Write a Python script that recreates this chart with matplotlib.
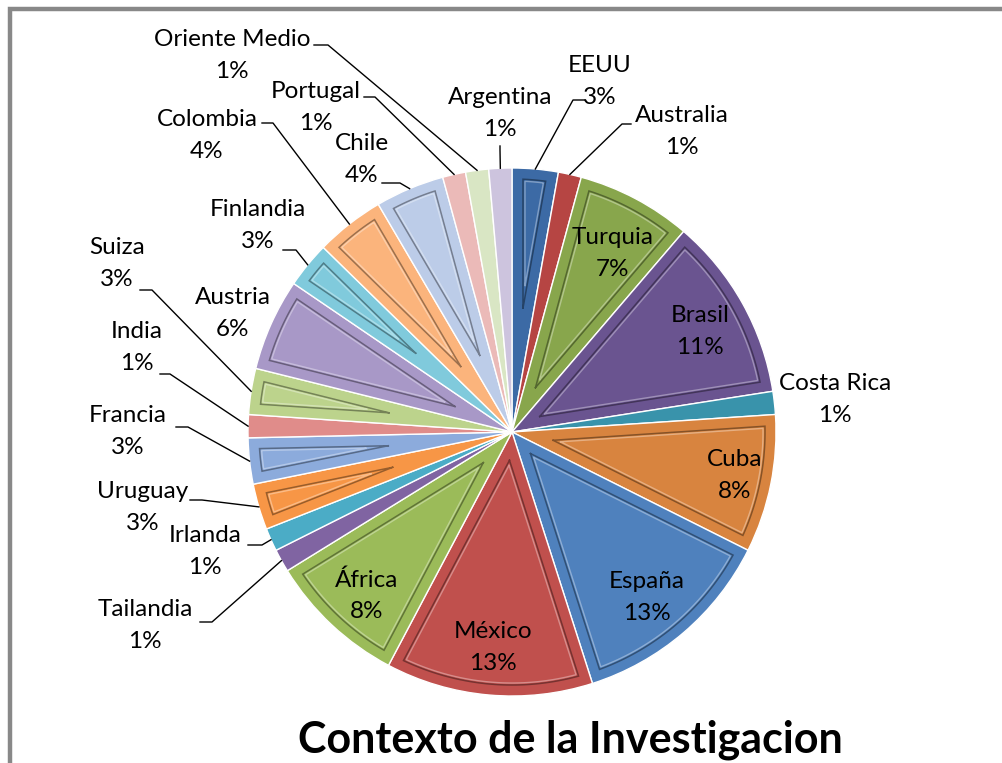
"""
Contexto de la Investigacion - exploded pie chart with bevelled slices.
"""

import numpy as np
import matplotlib
matplotlib.use("Agg")
import matplotlib.pyplot as plt
from matplotlib.colors import to_rgb

W, H = 1003, 763

# Data: number of studies per country (pie goes clockwise from the top)
countries = ["EEUU", "Australia", "Turquia", "Brasil", "Costa Rica", "Cuba",
             "España", "México", "África", "Tailandia", "Irlanda", "Uruguay",
             "Francia", "India", "Suiza", "Austria", "Finlandia", "Colombia",
             "Chile", "Portugal", "Oriente Medio", "Argentina"]
counts = [2, 1, 5, 8, 1, 6, 9, 9, 6, 1, 1, 2, 2, 1, 2, 4, 2, 3, 3, 1, 1, 1]
colors = ["#3c6aa5", "#b64543", "#88a64c", "#6a5490", "#3993ab", "#d8843f",
          "#4f81bd", "#c0504d", "#9bbb59", "#8064a2", "#4bacc6", "#f79646",
          "#8cabdc", "#e08c8a", "#bcd38c", "#a898c7", "#80cadc", "#fbb47c",
          "#bccce8", "#ebbab8", "#d9e6c4", "#cdc4de"]
title = "Contexto de la Investigacion"

# label placement in pixels (x, y of the name line), percentage goes below
label_pos = {
    "EEUU": (600, 65), "Australia": (682, 115), "Turquia": (613, 238),
    "Brasil": (700, 315), "Costa Rica": (835, 384), "Cuba": (735, 460),
    "España": (647, 581), "México": (493, 632), "África": (367, 580),
    "Tailandia": (145, 610), "Irlanda": (205, 535), "Uruguay": (143, 491),
    "Francia": (128, 416), "India": (137, 331), "Suiza": (117, 247),
    "Austria": (233, 297), "Finlandia": (258, 210), "Colombia": (207, 119),
    "Chile": (362, 143), "Portugal": (316, 92), "Oriente Medio": (232, 40),
    "Argentina": (500, 98),
}
# leader lines: start and elbow in pixels, the end is on the slice
leaders = {
    "Oriente Medio": [(314, 45), (328, 45)],
    "Portugal": [(364, 97), (375, 97)],
    "Argentina": [(500, 146), (500, 150)],
    "EEUU": [(585, 100), (573, 100)],
    "Australia": [(631, 124), (622, 124)],
    "Chile": [(382, 183), (400, 183)],
    "Colombia": [(262, 123), (273, 123)],
    "Finlandia": [(283, 250), (296, 250)],
    "Suiza": [(140, 290), (152, 290)],
    "India": [(160, 374), (170, 374)],
    "Francia": [(176, 427), (188, 427)],
    "Uruguay": [(190, 500), (202, 500)],
    "Irlanda": [(248, 545), (262, 545)],
    "Tailandia": [(200, 622), (212, 622)],
}


def px(x, y):
    """pixel coords (y down) -> axes data coords (y up)"""
    return x, H - y


def shade(c, f):
    r = np.array(to_rgb(c))
    if f < 1:
        return tuple(r * f)
    return tuple(r + (1 - r) * (f - 1))


def bevel(ax, w, color, d, col, lw):
    cx, cy = w.center
    R = w.r
    t1, t2 = np.radians(w.theta1), np.radians(w.theta2)
    a = (t2 - t1) / 2
    phi = (t1 + t2) / 2
    s = d / np.sin(a)
    Rin = R - d
    if s > Rin - 15:
        return
    delta = np.arcsin(d / Rin)
    th = np.linspace(t1 + delta, t2 - delta, 60)
    xs = [cx + s * np.cos(phi)] + list(cx + Rin * np.cos(th)) + [cx + s * np.cos(phi)]
    ys = [cy + s * np.sin(phi)] + list(cy + Rin * np.sin(th)) + [cy + s * np.sin(phi)]
    ax.plot(xs, ys, color=col, lw=lw, solid_joinstyle="miter")


fig = plt.figure(figsize=(W / 100, H / 100), dpi=100)
ax = fig.add_axes([0, 0, 1, 1])

wedges, _ = ax.pie(counts, colors=colors, startangle=90, counterclock=False,
                   center=px(512, 432), radius=264, explode=[0.012] * len(counts),
                   wedgeprops=dict(edgecolor="white", linewidth=1.0))

for w, c in zip(wedges, colors):
    bevel(ax, w, c, 11, shade(c, 0.62), 1.1)
    bevel(ax, w, c, 13, shade(c, 1.35), 1.0)

total = sum(counts)
font = "Lato"
for name, v, w in zip(countries, counts, wedges):
    x, y = label_pos[name]
    ax.text(*px(x, y), name, ha="center", va="center", fontsize=17.5,
            family=font, color="black")
    ax.text(*px(x, y + 32), f"{v / total:.0%}", ha="center", va="center",
            fontsize=17.5, family=font, color="black")
    if name in leaders:
        phi = np.radians((w.theta1 + w.theta2) / 2)
        ex = w.center[0] + w.r * np.cos(phi)
        ey = w.center[1] + w.r * np.sin(phi)
        pts = [px(*p) for p in leaders[name]] + [(ex, ey)]
        ax.plot([p[0] for p in pts], [p[1] for p in pts], color="black", lw=1.0)

# frame
ax.plot(*zip(px(10, 770), px(10, 9), px(1010, 9)), color="#888888", lw=3.2,
        solid_joinstyle="miter")

ax.text(*px(570, 752), title, ha="center", va="baseline", fontsize=31,
        fontweight="bold", family=font, color="black")

ax.set_xlim(0, W)
ax.set_ylim(0, H)
ax.set_aspect("auto")
ax.axis("off")

fig.savefig("out.png", dpi=100, facecolor="white")
